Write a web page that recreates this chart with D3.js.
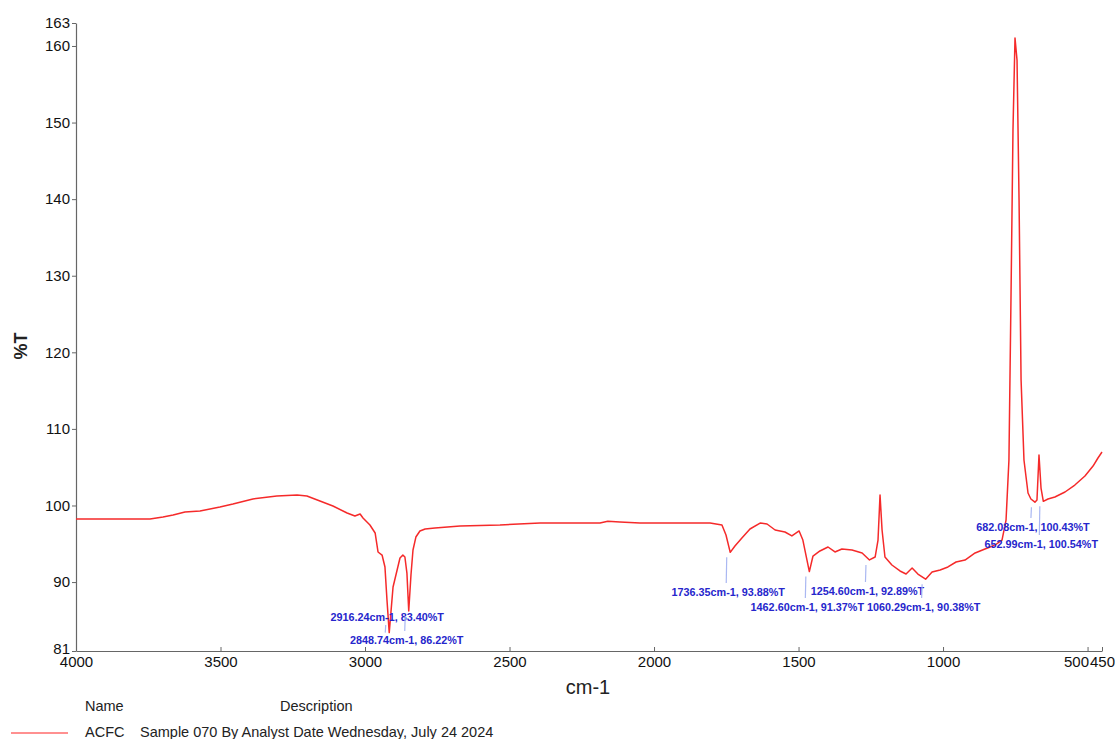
<!DOCTYPE html>
<html>
<head>
<meta charset="utf-8">
<script src="https://cdn.jsdelivr.net/npm/d3@7/dist/d3.min.js"></script>
<style>
body { margin: 0; background: #fff; font-family: Arial, "Liberation Sans", sans-serif; }
</style>
</head>
<body>
<div id="chart-area"></div>
<script>
// spectrum
var wavenumber = [4000, 3744, 3699, 3664, 3623, 3571, 3502, 3457, 3388, 3305, 3235, 3201, 3156, 3111, 3062, 3035, 3017, 3007,
    2983, 2965, 2955, 2941, 2931, 2924, 2916.24, 2903, 2879, 2869, 2862, 2855, 2848.74, 2841, 2834, 2824, 2810, 2792, 2758,
    2671, 2533, 2394, 2256, 2187, 2160, 2118, 2049, 1910, 1806, 1765, 1751, 1736.35, 1720, 1696, 1668, 1633, 1609, 1581,
    1547, 1523, 1498, 1485, 1462.6, 1450, 1426, 1398, 1374, 1350, 1315, 1280, 1254.6, 1235, 1225, 1218, 1211, 1201, 1177,
    1149, 1128, 1107, 1087, 1060.29, 1038, 1010, 983, 955, 924, 889, 855, 820, 796, 782, 772, 765, 758, 751, 744, 737, 730,
    720, 706, 696, 682.08, 675, 668, 661, 652.99, 637, 613, 578, 544, 509, 481, 464, 450];
var transmittance = [98.23, 98.23, 98.50, 98.76, 99.15, 99.28, 99.80, 100.19, 100.85, 101.24, 101.37, 101.24, 100.58, 99.93, 99.02, 98.63, 98.89, 98.37,
    97.45, 96.41, 93.93, 93.53, 91.97, 87.66, 83.40, 89.36, 93.14, 93.53, 93.27, 91.18, 86.22, 90.92, 94.19, 95.88, 96.67, 96.93, 97.06,
    97.32, 97.45, 97.71, 97.71, 97.71, 97.95, 97.85, 97.71, 97.71, 97.71, 97.45, 96.15, 93.88, 94.71, 95.75, 96.93, 97.71, 97.58, 96.80,
    96.54, 96.02, 96.67, 95.49, 91.37, 93.40, 94.06, 94.58, 93.93, 94.32, 94.19, 93.80, 92.89, 93.27, 95.49, 101.37, 96.80, 93.27, 92.23,
    91.45, 91.05, 91.84, 91.05, 90.38, 91.31, 91.58, 91.97, 92.62, 92.88, 93.80, 94.32, 94.84, 95.49, 98.10, 105.94, 126.83, 149.03, 161.04, 158.16, 139.88, 116.38,
    105.94, 101.63, 100.85, 100.43, 100.72, 106.59, 102.28, 100.54, 100.85, 101.11, 101.76, 102.67, 103.85, 105.15, 106.20, 106.98];

// labelled peaks
var peakWn = [2916.24, 2848.74, 1736.35, 1462.60, 1254.60, 1060.29, 682.08, 652.99];
var peakT = [83.40, 86.22, 93.88, 91.37, 92.89, 90.38, 100.43, 100.54];

var xTicks = [4000, 3500, 3000, 2500, 2000, 1500, 1000, 500, 450];
var yTicks = [81, 90, 100, 110, 120, 130, 140, 150, 160, 163];

var seriesName = "ACFC";
var seriesDesc = "Sample 070 By Analyst Date Wednesday, July 24 2024";

var width = 1115, height = 739;

var svg = d3.select("#chart-area").append("svg")
    .attr("width", width)
    .attr("height", height);

var x = d3.scaleLinear().domain([4000, 450]).range([76, 1102]);
var y = d3.scaleLinear().domain([81, 163]).range([651, 23]);

// axes
var xAxis = svg.append("g")
    .attr("transform", "translate(0," + 651 + ")")
    .call(d3.axisBottom(x).tickValues(xTicks).tickSizeInner(-4).tickSizeOuter(0).tickPadding(5).tickFormat(d3.format("d")));

var yAxis = svg.append("g")
    .attr("transform", "translate(" + 76 + ",0)")
    .call(d3.axisLeft(y).tickValues(yTicks).tickSizeInner(4).tickSizeOuter(0).tickPadding(2).tickFormat(d3.format("d")));

[xAxis, yAxis].forEach(function(g) {
    g.select(".domain").attr("stroke", "#666").attr("stroke-width", 1.2);
    g.selectAll(".tick line").attr("stroke", "#666");
    g.selectAll(".tick text")
        .attr("fill", "#111")
        .style("font-size", "15px")
        .style("font-family", "Arial, 'Liberation Sans', sans-serif");
});

// the 500 and 450 labels sit side by side
xAxis.selectAll(".tick text")
    .filter(function(d) { return d === 500; })
    .attr("text-anchor", "end").attr("dx", 1);
xAxis.selectAll(".tick text")
    .filter(function(d) { return d === 450; })
    .attr("text-anchor", "start").attr("dx", -12.5);
// lift the bottom y label off the x labels
yAxis.selectAll(".tick text")
    .filter(function(d) { return d === 81; })
    .attr("dy", "0.15em");

// axis titles
svg.append("text")
    .attr("transform", "translate(27,346) rotate(-90)")
    .attr("text-anchor", "middle")
    .attr("fill", "#222")
    .style("font-size", "18px")
    .style("font-weight", "bold")
    .text("%T");

svg.append("text")
    .attr("x", 588)
    .attr("y", 694)
    .attr("text-anchor", "middle")
    .attr("fill", "#222")
    .style("font-size", "20px")
    .text("cm-1");

// spectrum line
var points = wavenumber.map(function(w, i) { return [w, transmittance[i]]; });

var line = d3.line()
    .x(function(d) { return x(d[0]); })
    .y(function(d) { return y(d[1]); });

svg.append("path")
    .datum(points)
    .attr("fill", "none")
    .attr("stroke", "#f52a2a")
    .attr("stroke-width", 1.5)
    .attr("stroke-linejoin", "round")
    .attr("d", line);

// peak labels: two rows per group
var labelBase = [621, 644, 596, 611, 595, 611, 531, 548];

peakWn.forEach(function(w, i) {
    var px = x(w), py = y(peakT[i]);
    var ly = labelBase[i];
    var y1, y2;
    if (ly - 4 > py + 14) { y1 = py + 5; y2 = ly - 13; }
    else { y1 = ly + 4; y2 = py; }
    svg.append("line")
        .attr("x1", px - 3.5).attr("x2", px - 4)
        .attr("y1", y1).attr("y2", y2)
        .attr("stroke", "#aab8f2")
        .attr("stroke-width", 1.2);
    svg.append("text")
        .attr("x", px - 2)
        .attr("y", ly)
        .attr("text-anchor", "middle")
        .attr("fill", "#2626cc")
        .style("font-size", "10.8px")
        .style("font-weight", "bold")
        .text(w.toFixed(2) + "cm-1, " + peakT[i].toFixed(2) + "%T");
});

// legend
svg.append("text").attr("x", 85).attr("y", 711).attr("fill", "#222")
    .style("font-size", "14.5px").text("Name");
svg.append("text").attr("x", 280).attr("y", 711).attr("fill", "#222")
    .style("font-size", "14.5px").text("Description");
svg.append("line")
    .attr("x1", 11).attr("x2", 68).attr("y1", 733).attr("y2", 733)
    .attr("stroke", "#ff6b6b").attr("stroke-width", 1.5);
svg.append("text").attr("x", 85).attr("y", 737).attr("fill", "#222")
    .style("font-size", "14.5px").text(seriesName);
svg.append("text").attr("x", 140).attr("y", 737).attr("fill", "#222")
    .style("font-size", "14.5px").text(seriesDesc);
</script>
</body>
</html>
